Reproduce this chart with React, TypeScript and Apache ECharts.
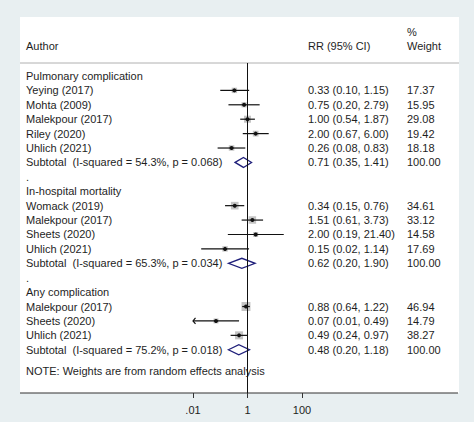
import React, { useEffect, useRef } from "react";
import * as echarts from "echarts";

const rowLabels = [
  "Pulmonary complication",
  "Yeying (2017)",
  "Mohta (2009)",
  "Malekpour (2017)",
  "Riley (2020)",
  "Uhlich (2021)",
  "Subtotal  (I-squared = 54.3%, p = 0.068)",
  ".",
  "In-hospital mortality",
  "Womack (2019)",
  "Malekpour (2017)",
  "Sheets (2020)",
  "Uhlich (2021)",
  "Subtotal  (I-squared = 65.3%, p = 0.034)",
  ".",
  "Any complication",
  "Malekpour (2017)",
  "Sheets (2020)",
  "Uhlich (2021)",
  "Subtotal  (I-squared = 75.2%, p = 0.018)",
];
const rowTypes = [
  "head", "study", "study", "study", "study", "study", "sub", "blank",
  "head", "study", "study", "study", "study", "sub", "blank",
  "head", "study", "study", "study", "sub",
];
const rr: (number | null)[] = [
  null, 0.33, 0.75, 1.0, 2.0, 0.26, 0.71, null,
  null, 0.34, 1.51, 2.0, 0.15, 0.62, null,
  null, 0.88, 0.07, 0.49, 0.48,
];
const lower: (number | null)[] = [
  null, 0.1, 0.2, 0.54, 0.67, 0.08, 0.35, null,
  null, 0.15, 0.61, 0.19, 0.02, 0.2, null,
  null, 0.64, 0.01, 0.24, 0.2,
];
const upper: (number | null)[] = [
  null, 1.15, 2.79, 1.87, 6.0, 0.83, 1.41, null,
  null, 0.76, 3.73, 21.4, 1.14, 1.9, null,
  null, 1.22, 0.49, 0.97, 1.18,
];
const weights: (number | null)[] = [
  null, 17.37, 15.95, 29.08, 19.42, 18.18, 100.0, null,
  null, 34.61, 33.12, 14.58, 17.69, 100.0, null,
  null, 46.94, 14.79, 38.27, 100.0,
];
const xTicks = [0.01, 1, 100];
const headerAuthor = "Author";
const headerRR = "RR (95% CI)";
const headerPct = "%";
const headerWeight = "Weight";
const noteText = "NOTE: Weights are from random effects analysis";

const FONT = "'Liberation Sans', Arial, sans-serif";
const TXT = "#1e1e1e";
const XMIN = xTicks[0];
const XMAX = xTicks[xTicks.length - 1];

export default function App() {
  const ref = useRef<HTMLDivElement>(null);
  useEffect(() => {
    if (!ref.current) return;
    const chart = echarts.init(ref.current, null, { renderer: "svg" });
    const textStyle = { fill: TXT, fontSize: 11, fontFamily: FONT };
    const fmt = (v: number) => (v < 1 ? String(v).replace(/^0/, "") : String(v));
    const option: any = {
      animation: false,
      backgroundColor: "#e8eff1",
      grid: { left: 193, right: 172, top: 63, bottom: 29, containLabel: false },
      xAxis: {
        type: "log",
        logBase: 10,
        min: XMIN,
        max: XMAX,
        interval: 2,
        axisLine: { show: false, onZero: false },
        axisTick: { show: true, length: 5, lineStyle: { color: "#333", width: 1 } },
        axisLabel: {
          color: TXT,
          fontSize: 11,
          fontFamily: FONT,
          margin: 11,
          formatter: (v: number) => fmt(v),
        },
        splitLine: { show: false },
      },
      yAxis: {
        type: "value",
        inverse: true,
        min: -0.9,
        max: 22,
        show: false,
      },
      graphic: [
        { type: "rect", z: -10, shape: { x: 20, y: 17, width: 439, height: 376 }, style: { fill: "#ffffff" } },
        { type: "line", shape: { x1: 20, y1: 63, x2: 459, y2: 63 }, style: { stroke: "#b0b0b0", lineWidth: 1 } },
        { type: "line", shape: { x1: 20, y1: 393, x2: 458, y2: 393 }, style: { stroke: "#333", lineWidth: 1.2 } },
        { type: "text", style: { x: 26, y: 46, text: headerAuthor, verticalAlign: "middle", ...textStyle } },
        { type: "text", style: { x: 308, y: 46, text: headerRR, verticalAlign: "middle", ...textStyle } },
        { type: "text", style: { x: 407, y: 32, text: headerPct, verticalAlign: "middle", ...textStyle } },
        { type: "text", style: { x: 407, y: 46, text: headerWeight, verticalAlign: "middle", ...textStyle } },
        { type: "text", style: { x: 26, y: 371, text: noteText, verticalAlign: "middle", ...textStyle } },
      ],
      series: [
        {
          type: "custom",
          clip: false,
          data: rowLabels.map((_, i) => [rr[i] ?? 1, i]),
          encode: { x: 0, y: 1 },
          markLine: {
            silent: true,
            symbol: "none",
            label: { show: false },
            lineStyle: { color: "#111", width: 1, type: "solid" },
            data: [{ xAxis: 1 }],
          },
          renderItem: (params: any, api: any) => {
            const i = params.dataIndex;
            const y = api.coord([1, i])[1];
            const children: any[] = [];
            children.push({
              type: "text",
              style: { x: 26, y, text: rowLabels[i], verticalAlign: "middle", ...textStyle },
            });
            const r = rr[i];
            if (r != null) {
              const lo = lower[i] as number;
              const hi = upper[i] as number;
              const w = weights[i] as number;
              const xc = api.coord([r, i])[0];
              const xl = api.coord([Math.max(lo, XMIN), i])[0];
              const xu = api.coord([Math.min(hi, XMAX), i])[0];
              children.push({
                type: "text",
                style: {
                  x: 308, y, verticalAlign: "middle", ...textStyle,
                  text: `${r.toFixed(2)} (${lo.toFixed(2)}, ${hi.toFixed(2)})`,
                },
              });
              children.push({
                type: "text",
                style: { x: 407, y, verticalAlign: "middle", ...textStyle, text: w.toFixed(2) },
              });
              if (rowTypes[i] === "sub") {
                children.push({
                  type: "polygon",
                  shape: { points: [[xl, y], [xc, y - 5], [xu, y], [xc, y + 5]] },
                  style: { fill: "#ffffff", stroke: "#1f1f7a", lineWidth: 1.3 },
                });
              } else {
                const s = 1.3 * Math.sqrt(w);
                children.push({
                  type: "rect",
                  shape: { x: xc - s / 2, y: y - s / 2, width: s, height: s },
                  style: { fill: "#c4c4c4" },
                });
                children.push({
                  type: "line",
                  shape: { x1: xl, y1: y, x2: xu, y2: y },
                  style: { stroke: "#111", lineWidth: 1.2 },
                });
                if (lo <= XMIN) {
                  children.push({
                    type: "polyline",
                    shape: { points: [[xl + 2.5, y - 3], [xl, y], [xl + 2.5, y + 3]] },
                    style: { stroke: "#111", lineWidth: 1.2, fill: "none" },
                  });
                }
                children.push({
                  type: "circle",
                  shape: { cx: xc, cy: y, r: 2 },
                  style: { fill: "#111" },
                });
              }
            }
            return { type: "group", children };
          },
        },
      ],
    };
    chart.setOption(option);
    return () => chart.dispose();
  }, []);
  return (
    <div
      ref={ref}
      style={{ position: "fixed", left: 0, top: 0, width: 474, height: 422 }}
    />
  );
}
